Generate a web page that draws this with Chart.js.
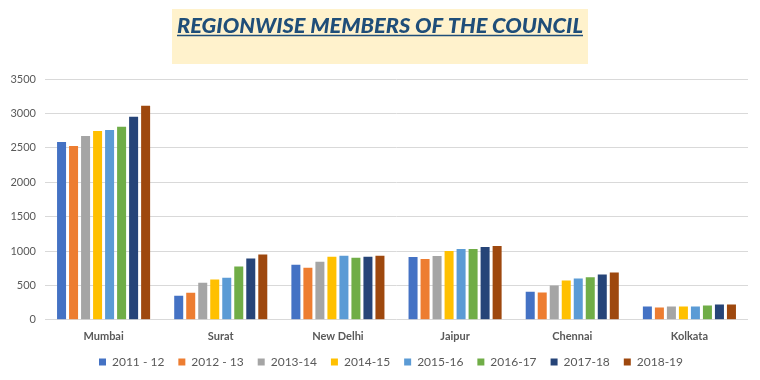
<!DOCTYPE html>
<html>
<head>
<meta charset="utf-8">
<script src="https://cdn.jsdelivr.net/npm/chart.js@4"></script>
<style>
  html, body { margin: 0; padding: 0; background: #ffffff; }
  #wrap { width: 760px; height: 380px; position: relative; }
</style>
</head>
<body>
<div id="wrap"><canvas id="c" width="760" height="380"></canvas></div>
<script>
const categories = ["Mumbai", "Surat", "New Delhi", "Jaipur", "Chennai", "Kolkata"];
const seriesNames = ["2011 - 12", "2012 - 13", "2013-14", "2014-15", "2015-16", "2016-17", "2017-18", "2018-19"];
const s2011 = [2585, 350, 800, 913, 406, 194];
const s2012 = [2525, 394, 757, 884, 395, 180];
const s2013 = [2670, 540, 845, 928, 500, 194];
const s2014 = [2745, 584, 917, 1000, 573, 194];
const s2015 = [2760, 613, 932, 1029, 602, 194];
const s2016 = [2805, 774, 903, 1029, 617, 209];
const s2017 = [2950, 891, 917, 1058, 660, 223];
const s2018 = [3110, 949, 932, 1072, 689, 223];
const yTicks = [0, 500, 1000, 1500, 2000, 2500, 3000, 3500];
const titleText = "REGIONWISE MEMBERS OF THE COUNCIL";

const seriesValues = [s2011, s2012, s2013, s2014, s2015, s2016, s2017, s2018];
const colors = ["#4472C4", "#ED7D31", "#A5A5A5", "#FFC000", "#5B9BD5", "#70AD47", "#264478", "#9E480E"];

const titlePlugin = {
  id: "boxTitle",
  afterInit(chart) {
    const lg = chart.legend;
    if (lg) {
      const origFit = lg.fit.bind(lg);
      lg.fit = function () { origFit(); this.height = 27; };
      const origDraw = lg.draw.bind(lg);
      lg.draw = function (area) {
        const c = chart.ctx;
        c.save();
        c.translate(17, -11);
        origDraw(area);
        c.restore();
      };
    }
  },
  afterDraw(chart) {
    const ctx = chart.ctx;
    ctx.save();
    ctx.fillStyle = "#FFF2CC";
    ctx.fillRect(172, 9, 416, 55);
    ctx.font = "italic 900 21px Lato";
    const w = ctx.measureText(titleText).width;
    const target = 406;
    const cx = 380, base = 33;
    ctx.translate(cx, base);
    ctx.scale(target / w, 1);
    ctx.fillStyle = "#1F4E79";
    ctx.textAlign = "center";
    ctx.textBaseline = "alphabetic";
    ctx.fillText(titleText, 0, 0);
    ctx.restore();
    ctx.save();
    ctx.strokeStyle = "#1F4E79";
    ctx.lineWidth = 1.6;
    ctx.beginPath();
    ctx.moveTo(cx - target / 2, base + 2.5);
    ctx.lineTo(cx + target / 2, base + 2.5);
    ctx.stroke();
    ctx.restore();
  }
};

new Chart(document.getElementById("c"), {
  type: "bar",
  data: {
    labels: categories,
    datasets: seriesNames.map((n, i) => ({
      label: n,
      data: seriesValues[i],
      backgroundColor: colors[i],
      borderWidth: 0,
      categoryPercentage: 0.82,
      barPercentage: 0.75
    }))
  },
  options: {
    responsive: false,
    animation: false,
    layout: { padding: { top: 79, left: 0, right: 12, bottom: 0 } },
    plugins: {
      title: { display: false },
      tooltip: { enabled: false },
      legend: {
        position: "bottom",
        labels: {
          boxWidth: 7,
          boxHeight: 7,
          padding: 14,
          color: "#595959",
          font: { family: "Lato", size: 12 }
        }
      }
    },
    scales: {
      x: {
        grid: { display: false, drawTicks: false },
        border: { display: false },
        ticks: { color: "#595959", font: { family: "Lato", size: 11, weight: "bold" }, padding: 10 }
      },
      y: {
        min: 0,
        max: 3500,
        afterBuildTicks(scale) { scale.ticks = yTicks.map(v => ({ value: v })); },
        afterFit(scale) { scale.width = 45; },
        grid: { color: "#D9D9D9", lineWidth: 1, drawTicks: false },
        border: { display: false },
        ticks: { color: "#595959", font: { family: "Lato", size: 11 }, padding: 9, callback: v => String(v) }
      }
    }
  },
  plugins: [titlePlugin]
});
</script>
</body>
</html>
